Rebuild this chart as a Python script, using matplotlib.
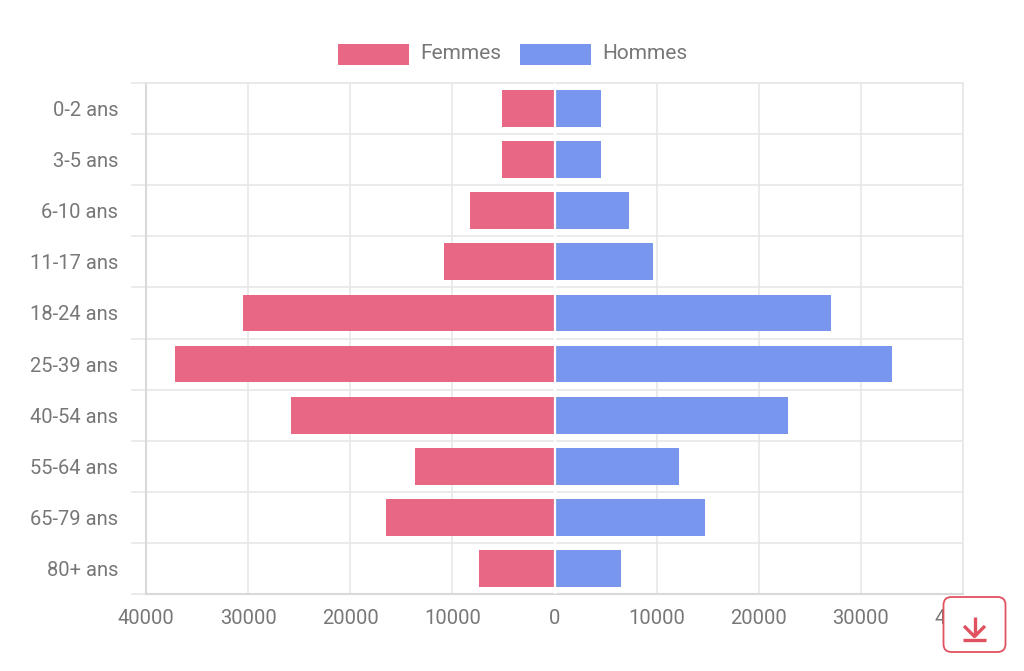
import numpy as np
from matplotlib import pyplot as plt
from matplotlib.lines import Line2D
from matplotlib.patches import FancyBboxPatch, Rectangle
from matplotlib.ticker import FuncFormatter

plt.rcParams['font.family'] = ['Roboto', 'DejaVu Sans']

age_groups = ["0-2 ans", "3-5 ans", "6-10 ans", "11-17 ans", "18-24 ans",
              "25-39 ans", "40-54 ans", "55-64 ans", "65-79 ans", "80+ ans"]
femmes = [5150, 5150, 8250, 10850, 30550, 37200, 25800, 13700, 16500, 7350]
hommes = [4600, 4600, 7300, 9650, 27050, 33000, 22900, 12150, 14700, 6500]
x_ticks = [-40000, -30000, -20000, -10000, 0, 10000, 20000, 30000, 40000]

W, H = 1024, 671
TEXT = "#777777"
GRID = "#e6e6e6"
PINK = "#e86785"
BLUE = "#7896ee"
RED = "#e0525f"


# pixel box with the origin at the top left of the figure
def fig_xy(x, y):
    return x / W, 1 - y / H


fig = plt.figure(figsize=(W / 100, H / 100), dpi=100, facecolor="white")
ax = fig.add_axes([146 / W, 1 - 594 / H, (963 - 146) / W, (594 - 83) / H])

y = np.arange(len(age_groups))
ax.barh(y, -np.array(femmes), height=0.72, color=PINK, zorder=3)
ax.barh(y, hommes, height=0.72, color=BLUE, zorder=3)
ax.axvline(0, color="white", lw=1.6, zorder=4)

ax.set_xlim(-40000, 40000)
ax.set_ylim(len(age_groups) - 0.5, -0.5)
ax.set_xticks(x_ticks)
ax.xaxis.set_major_formatter(FuncFormatter(lambda v, pos: str(abs(int(v)))))
ax.set_yticks(y)
ax.set_yticklabels(age_groups)

# row separators, they run a little past the left edge like tick marks
ax.set_yticks(np.arange(len(age_groups) + 1) - 0.5, minor=True)
ax.grid(True, axis="x", color=GRID, lw=1.1, zorder=0)
ax.grid(True, axis="y", which="minor", color=GRID, lw=1.1, zorder=0)
ax.tick_params(axis="y", which="minor", length=11, width=1.1, color=GRID)
ax.tick_params(axis="y", which="major", length=0, pad=20, labelsize=14.5, labelcolor=TEXT)
ax.tick_params(axis="x", which="major", length=0, pad=11, labelsize=14.5, labelcolor=TEXT)
ax.grid(False, axis="y", which="major")

for side in ax.spines.values():
    side.set_color(GRID)
    side.set_linewidth(1.1)
ax.spines["left"].set_color("#d9d9d9")
ax.spines["left"].set_linewidth(1.5)
ax.spines["bottom"].set_color("#d9d9d9")
ax.spines["bottom"].set_linewidth(1.5)

# legend on top of the chart
for x0, colour, name in [(338, PINK, "Femmes"), (520, BLUE, "Hommes")]:
    fx, fy = fig_xy(x0, 65)
    fig.add_artist(Rectangle((fx, fy), 71 / W, 21 / H, transform=fig.transFigure,
                             facecolor=colour, edgecolor="none"))
    tx, ty = fig_xy(x0 + 82, 53.5)
    fig.text(tx, ty, name, color=TEXT, fontsize=15, ha="left", va="center")

# download button sits over the last axis label
bx, by = fig_xy(943.5, 652)
button = FancyBboxPatch((bx * W, by * H), 62, 55, boxstyle="round,pad=0,rounding_size=8",
                        transform=fig.dpi_scale_trans + plt.matplotlib.transforms.Affine2D(),
                        facecolor="white", edgecolor=RED, lw=1.3, zorder=10)
button.set_transform(plt.matplotlib.transforms.Affine2D().scale(1 / W, 1 / H) + fig.transFigure)
fig.add_artist(button)
for xs, ys in [((974.5, 974.5), (617, 636)),
               ((964, 974.5, 985), (626, 636.5, 626)),
               ((963, 986), (640, 640))]:
    pts = [fig_xy(a, b) for a, b in zip(xs, ys)]
    fig.add_artist(Line2D([p[0] for p in pts], [p[1] for p in pts], transform=fig.transFigure,
                          color=RED, lw=2.4, zorder=11, solid_capstyle="butt"))

fig.savefig("out.png", dpi=100)
